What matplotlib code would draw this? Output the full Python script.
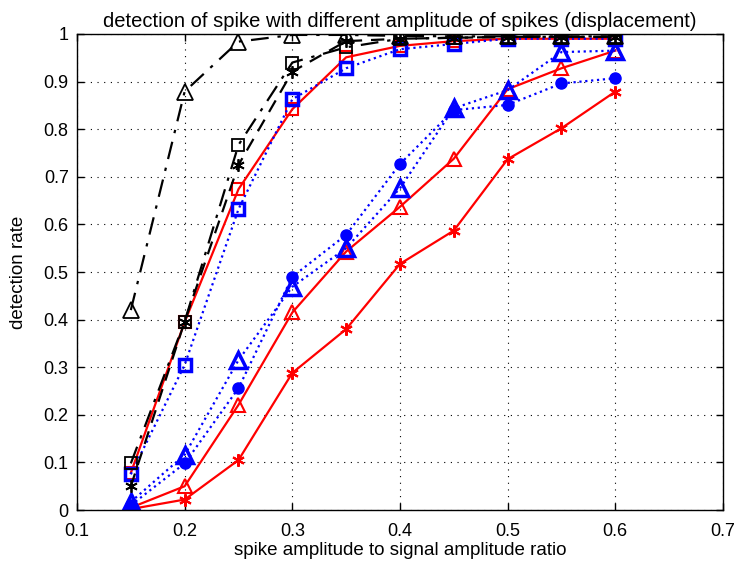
import matplotlib
matplotlib.use("Agg")
from matplotlib import pyplot as plt
import numpy as np

plt.rcParams['font.family'] = ['Liberation Sans', 'DejaVu Sans']

ratio = [0.15, 0.2, 0.25, 0.3, 0.35, 0.4, 0.45, 0.5, 0.55, 0.6]

# black, dash-dot / dashed
black_tri = [0.42, 0.879, 0.984, 0.998, 0.998, 0.996, 0.995, 0.995, 0.995, 0.995]
black_sq = [0.098, 0.396, 0.767, 0.94, 0.972, 0.99, 0.992, 0.994, 0.994, 0.994]
black_star = [0.05, 0.396, 0.725, 0.921, 0.985, 0.99, 0.992, 0.994, 0.994, 0.994]

# blue, dotted
blue_sq = [0.075, 0.305, 0.632, 0.863, 0.928, 0.968, 0.979, 0.99, 0.99, 0.99]
blue_tri = [0.017, 0.116, 0.315, 0.469, 0.55, 0.676, 0.844, 0.882, 0.962, 0.965]
blue_dot = [0.01, 0.098, 0.256, 0.49, 0.578, 0.727, 0.84, 0.851, 0.896, 0.907]

# red, solid
red_sq = [0.078, 0.395, 0.674, 0.842, 0.951, 0.975, 0.985, 0.99, 0.99, 0.99]
red_tri = [0.005, 0.05, 0.221, 0.415, 0.543, 0.637, 0.738, 0.884, 0.928, 0.965]
red_star = [0.002, 0.022, 0.105, 0.288, 0.38, 0.517, 0.587, 0.737, 0.802, 0.879]

fig = plt.figure(figsize=(7.39, 5.73), dpi=100)
ax = fig.add_axes([0.1042, 0.1099, 0.8741, 0.8308])

lw = 1.6
ax.plot(ratio, red_sq, '-', color='red', lw=lw, marker='s', ms=8, mfc='none', mew=1.5)
ax.plot(ratio, red_tri, '-', color='red', lw=lw, marker='^', ms=10, mfc='none', mew=1.5)
ax.plot(ratio, red_star, '-', color='red', lw=lw, marker=(6, 2, 0), ms=9, mew=1.5)

ax.plot(ratio, blue_sq, ':', color='blue', lw=lw, marker='s', ms=8, mfc='none', mew=2.5)
ax.plot(ratio, blue_tri, ':', color='blue', lw=lw, marker='^', ms=11, mfc='none', mew=2.5)
ax.plot(ratio, blue_dot, ':', color='blue', lw=lw, marker='o', ms=8, mew=1)

ax.plot(ratio, black_tri, '-.', color='black', lw=lw, marker='^', ms=11, mfc='none', mew=1.3,
        dashes=(8, 4, 1.5, 4))
ax.plot(ratio, black_sq, '-.', color='black', lw=lw, marker='s', ms=8, mfc='none', mew=1.3,
        dashes=(8, 4, 1.5, 4))
ax.plot(ratio, black_star, '--', color='black', lw=lw, marker=(6, 2, 0), ms=9, mew=1.3,
        dashes=(6, 4))

ax.set_xlim(0.1, 0.7)
ax.set_ylim(0, 1)
ax.set_xticks(np.arange(0.1, 0.71, 0.1))
ax.set_yticks(np.arange(0, 1.01, 0.1))
ax.set_xticklabels(['0.1', '0.2', '0.3', '0.4', '0.5', '0.6', '0.7'])
ax.set_yticklabels(['0', '0.1', '0.2', '0.3', '0.4', '0.5', '0.6', '0.7', '0.8', '0.9', '1'])
ax.tick_params(direction='in', labelsize=13, length=5, top=True, right=True, width=1)
ax.tick_params(axis='x', pad=9)
ax.tick_params(axis='y', pad=6)
ax.grid(True, color='black', linestyle=(0, (1, 5)), linewidth=0.8)
for sp in ax.spines.values():
    sp.set_linewidth(1)

ax.set_xlabel('spike amplitude to signal amplitude ratio', fontsize=13.5, labelpad=2)
ax.set_ylabel('detection rate', fontsize=13.5, labelpad=12)
ax.set_title('detection of spike with different amplitude of spikes (displacement)',
             fontsize=14.5, pad=5)

fig.savefig('out.png', dpi=100)
